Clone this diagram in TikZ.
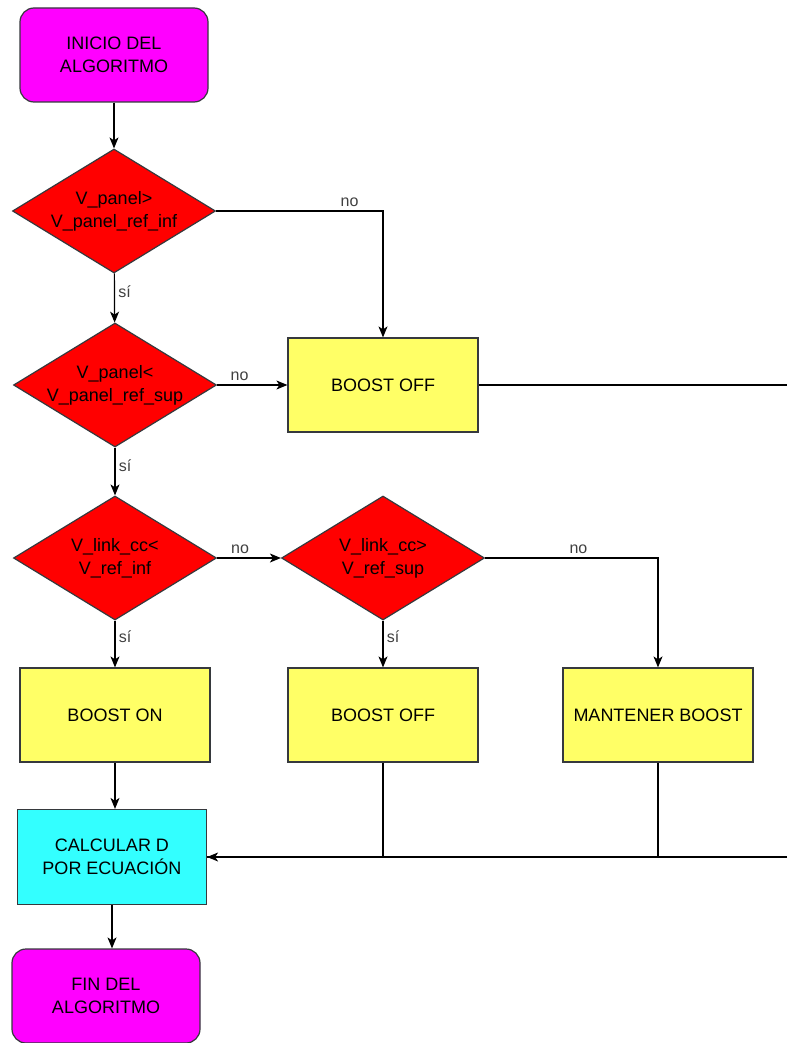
\documentclass[tikz,border=0pt]{standalone}
\usepackage{fontspec}
\setmainfont{Liberation Sans}
\usetikzlibrary{arrows.meta,shapes.geometric}
\definecolor{inicio}{HTML}{FF00FF}
\definecolor{decision}{HTML}{FF0000}
\definecolor{accion}{HTML}{FFFF66}
\definecolor{calculo}{HTML}{33FFFF}
\definecolor{borde}{HTML}{36393D}
\begin{document}
\begin{tikzpicture}[x=1pt,y=-1pt,font=\fontsize{18}{23}\selectfont,line width=1.2pt,
  every node/.style={align=center,draw=borde},
  terminal/.style={fill=inicio,rounded corners=14pt,minimum width=188pt,minimum height=94pt},
  cond/.style={diamond,fill=decision,inner sep=0pt,aspect=1.64,minimum width=203pt,minimum height=124pt},
  accbox/.style={fill=accion,minimum width=190pt,minimum height=94pt},
  calcbox/.style={fill=calculo,minimum width=189pt,minimum height=95pt},
  lbl/.style={draw=none,text=black!75,font=\fontsize{16}{19}\selectfont},
  arr/.style={-{Stealth[length=11pt,width=9pt,inset=3pt]}}]
\useasboundingbox (0,0) rectangle (787,1043);

\node[terminal] (ini) at (114,55) {INICIO DEL\\ALGORITMO};
\node[cond] (d1) at (114,211) {V\_panel>\\V\_panel\_ref\_inf};
\node[cond] (d2) at (115,385) {V\_panel<\\V\_panel\_ref\_sup};
\node[accbox] (boff1) at (383,385) {BOOST OFF};
\node[cond] (d3) at (115,558) {V\_link\_cc<\\V\_ref\_inf};
\node[cond] (d4) at (383,558) {V\_link\_cc>\\V\_ref\_sup};
\node[accbox] (bon) at (115,715) {BOOST ON};
\node[accbox] (boff2) at (383,715) {BOOST OFF};
\node[accbox] (mant) at (658,715) {MANTENER BOOST};
\node[calcbox] (calc) at (112,857) {CALCULAR D\\POR ECUACIÓN};
\node[terminal] (fin) at (106,996) {FIN DEL\\ALGORITMO};
\coordinate (eR1) at (787,385);
\coordinate (eR2) at (787,857);

% main column
\draw[arr] (ini) -- (d1);
\draw[arr] (d1) -- node[lbl,pos=0.38,right] {sí} (d2);
\draw[arr] (d2) -- node[lbl,pos=0.37,right] {sí} (d3);
\draw[arr] (d3) -- node[lbl,pos=0.35,right] {sí} (bon);
\draw[arr] (bon.south) -- (bon.south |- calc.north);
\draw[arr] (calc) -- (fin.north -| calc.south);

% no branches
\draw[arr] (d1.east) -| node[lbl,pos=0.4,above] {no} (boff1.north);
\draw[arr] (d2.east) -- node[lbl,pos=0.32,above] {no} (boff1.west);
\draw[arr] (d3.east) -- node[lbl,pos=0.36,above] {no} (d4.west);
\draw[arr] (d4.east) -| node[lbl,pos=0.27,above] {no} (mant.north);
\draw[arr] (d4) -- node[lbl,pos=0.35,right] {sí} (boff2);

% return lines
\draw (boff1.east) -- (eR1);
\draw (boff2.south) |- (calc.east);
\draw (mant.south) |- (calc.east);
\draw[arr] (eR2) -- (calc.east);
\end{tikzpicture}
\end{document}
